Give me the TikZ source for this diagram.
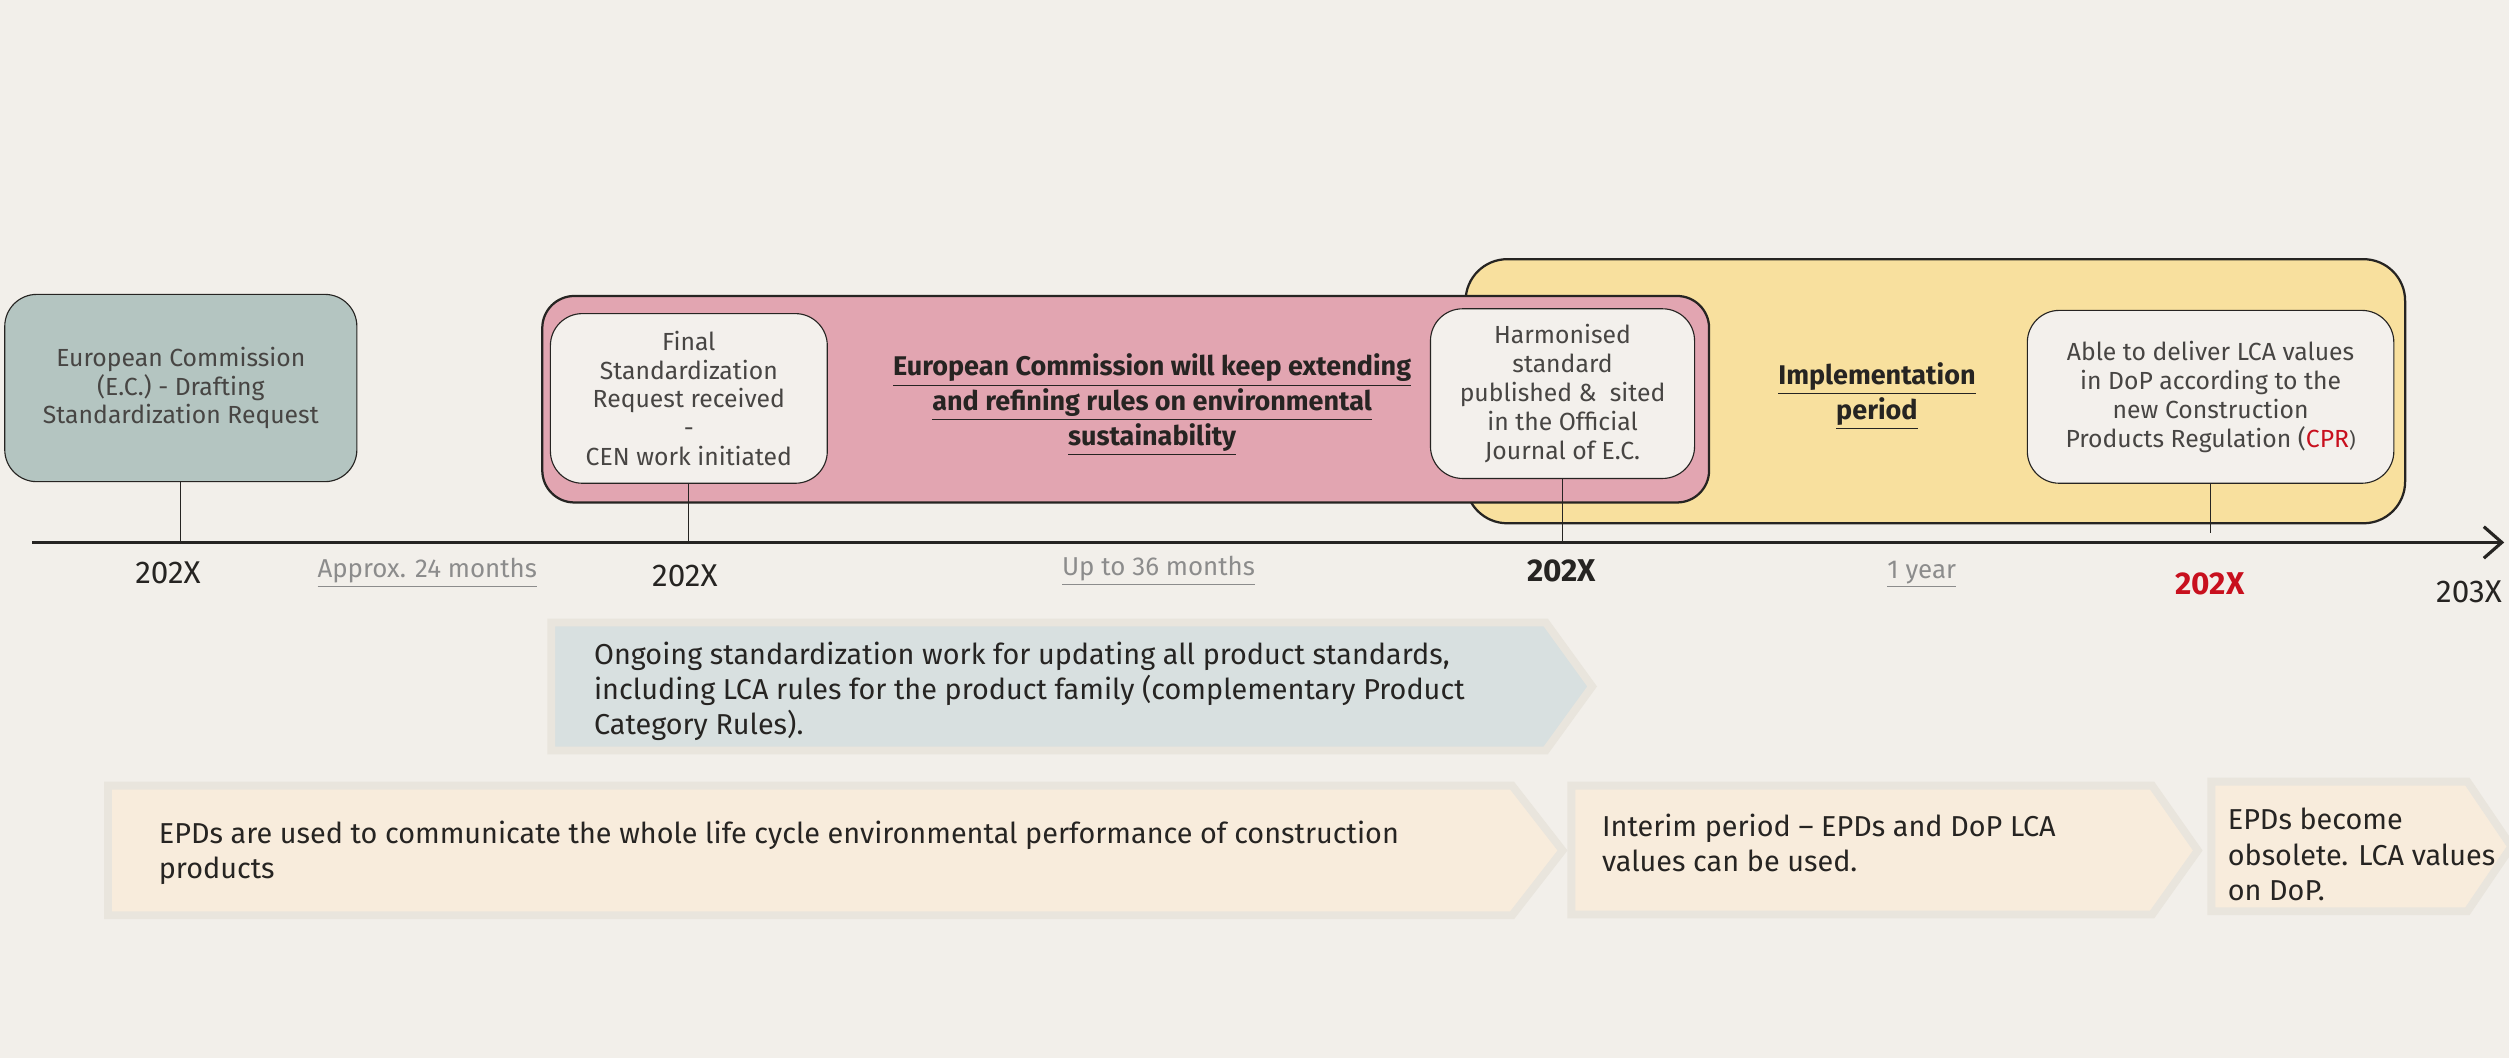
\documentclass[tikz,border=0pt]{standalone}
\usepackage{fontspec}
\setmainfont{Fira Sans}
\usetikzlibrary{arrows.meta}
\definecolor{paper}{RGB}{242,239,234}
\definecolor{tealfill}{RGB}{180,197,193}
\definecolor{pinkfill}{RGB}{226,165,177}
\definecolor{yellowfill}{RGB}{248,224,158}
\definecolor{notefill}{RGB}{243,240,236}
\definecolor{bluefill}{RGB}{216,224,224}
\definecolor{creamfill}{RGB}{248,236,220}
\definecolor{rimgray}{RGB}{233,229,221}
\definecolor{inkdark}{RGB}{38,36,34}
\definecolor{inkgray}{RGB}{140,140,140}
\definecolor{cprred}{RGB}{200,16,30}

\begin{document}
\begin{tikzpicture}[x=0.025cm, y=-0.025cm]
\tikzset{boxtext/.style={font=\fontsize{11}{12.8}\selectfont, text=inkdark!85, align=center},
  tealbox/.style={draw=inkdark, line width=0.5pt, fill=tealfill, rounded corners=0.5cm, boxtext},
  notebox/.style={draw=inkdark, line width=0.5pt, fill=notefill, rounded corners=0.5cm, boxtext},
  spanbox/.style={draw=inkdark, line width=1pt, rounded corners=0.6cm},
  spantext/.style={font=\bfseries\fontsize{12}{14.2}\selectfont, text=inkdark, align=center},
  tick/.style={draw=inkdark, line width=0.5pt},
  yearlabel/.style={font=\fontsize{14}{16}\selectfont, text=inkdark},
  durlabel/.style={font=\fontsize{11.5}{14}\selectfont, text=inkgray},
  rim/.style={draw=rimgray, line width=3.5pt},
  bodytext/.style={font=\fontsize{12.8}{15.6}\selectfont, text=inkdark, align=left, anchor=west, inner sep=0pt}}
\fill[paper] (0,0) rectangle (1568,661);
\useasboundingbox (0,0) rectangle (1568,661);
% periods behind the milestones
\node[spanbox, fill=yellowfill, minimum width=14.675cm, minimum height=4.125cm, rounded corners=0.65cm] (impl) at (1209.5,244.5) {};
\node[spanbox, fill=pinkfill, minimum width=18.225cm, minimum height=3.225cm, rounded corners=0.5cm] (ext) at (703.5,249.5) {};
\node[spantext] (extlabel) at (720,253) {\underline{European Commission will keep extending}\\\underline{and refining rules on environmental}\\\underline{sustainability}};
\node[spantext] (impllabel) at (1173,247.5) {\underline{Implementation}\\\underline{period}};
% milestones
\node[tealbox, minimum width=5.5cm, minimum height=2.925cm] (ec) at (113,242.5) {European Commission\\(E.C.) - Drafting\\Standardization Request};
\node[notebox, minimum width=4.325cm, minimum height=2.65cm] (final) at (430.5,249) {Final\\Standardization\\Request received\\-\\CEN work initiated};
\node[notebox, minimum width=4.125cm, minimum height=2.65cm] (harmo) at (976.5,246) {Harmonised\\standard\\published \&~ sited\\in the Official\\Journal of E.C.};
\node[notebox, minimum width=5.725cm, minimum height=2.7cm] (able) at (1381.5,248) {Able to deliver LCA values\\in DoP according to the\\new Construction\\Products Regulation ({\color{cprred}CPR}{\fontsize{9}{10}\selectfont)}};
% time axis
\coordinate (axL) at (20,339);
\coordinate (axR) at (1565,339);
\draw[inkdark, line width=1.4pt, -{Straight Barb[length=8pt,width=14pt]}] (axL) -- (axR);
\draw[tick] (ec.south) -- (ec.south |- axL);
\draw[tick] (final.south) -- (final.south |- axL);
\draw[tick] (harmo.south) -- (harmo.south |- axL);
\draw[tick, shorten >=4pt] (able.south) -- (able.south |- axL);
\node[yearlabel] (y1) at (105,358) {202X};
\node[durlabel] (d1) at (267,358) {\underline{Approx. 24 months}};
\node[yearlabel] (y2) at (428,360) {202X};
\node[durlabel] (d2) at (724,357) {\underline{Up to 36 months}};
\node[yearlabel, font=\bfseries\fontsize{14}{16}\selectfont] (y3) at (976,357) {202X};
\node[durlabel] (d3) at (1201,359) {\underline{1 year}};
\node[yearlabel, font=\bfseries\fontsize{14}{16}\selectfont, text=cprred] (y4) at (1381,365) {202X};
\node[yearlabel] (y5) at (1543,370) {203X};
% bands below the axis
\draw[rim, fill=bluefill] (344.5,389) -- (966,389) -- (995,429) -- (966,469) -- (344.5,469) -- cycle;
\node[bodytext] (ongoing) at (371,432) {Ongoing standardization work for updating all product standards,\\including LCA rules for the product family (complementary Product\\Category Rules).};
\draw[rim, fill=creamfill] (67.5,491) -- (945,491) -- (976.5,531.5) -- (945,572) -- (67.5,572) -- cycle;
\node[bodytext] (epdA) at (99,533) {EPDs are used to communicate the whole life cycle environmental performance of construction\\products};
\draw[rim, fill=creamfill] (982,491) -- (1345,491) -- (1373.5,531.5) -- (1345,571.5) -- (982,571.5) -- cycle;
\node[bodytext] (epdB) at (1001,527) {Interim period – EPDs and DoP LCA\\values can be used.};
\draw[rim, fill=creamfill] (1382,488.5) -- (1542,488.5) -- (1569.5,529) -- (1542,569.5) -- (1382,569.5) -- cycle;
\node[bodytext] (epdC) at (1392,534) {EPDs become\\obsolete. LCA values\\on DoP.};
\end{tikzpicture}
\end{document}
